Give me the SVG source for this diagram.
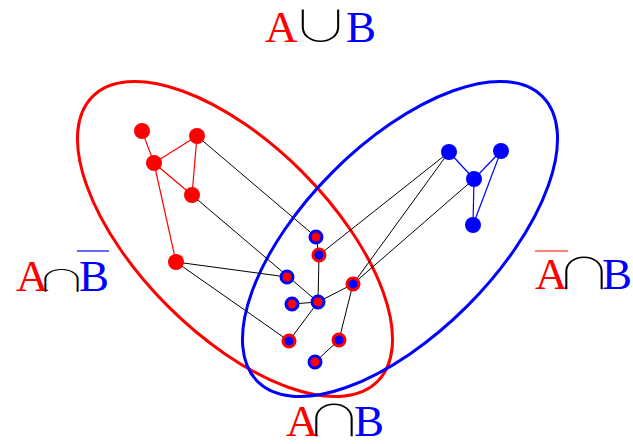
<svg xmlns="http://www.w3.org/2000/svg" width="633" height="444" viewBox="0 0 633 444">
<style>
.lbl{font-family:"Liberation Serif","Times New Roman",serif;font-size:45px}
.sym{font-family:"Noto Sans CJK JP","Noto Sans CJK SC",sans-serif;font-weight:100;font-size:42px;fill:#000;text-anchor:middle}
.ra{fill:#ff0000}.bb{fill:#0000ff}
.set{fill:none;stroke-width:3}
.re{stroke:#ff0000;stroke-width:1.2;fill:none}
.be{stroke:#0000ff;stroke-width:1.2;fill:none}
.ke{stroke:#000;stroke-width:1;fill:none}
.rn{fill:#ff0000}.bn{fill:#0000ff}
.rb{fill:#ff0000;stroke:#0000ff;stroke-width:3}
.br{fill:#0000ff;stroke:#ff0000;stroke-width:3}
</style>
<g id="setA"><ellipse class="set" stroke="#ff0000" cx="235" cy="239" rx="201.5" ry="95" transform="rotate(45 235 239)"/></g>
<g id="setB"><ellipse class="set" stroke="#0000ff" cx="400" cy="239" rx="201.5" ry="95" transform="rotate(-45 400 239)"/></g>
<g id="connectors">
<line class="re" x1="142" y1="131" x2="154" y2="163"/>
<line class="re" x1="154" y1="163" x2="197" y2="136"/>
<line class="re" x1="154" y1="163" x2="192" y2="195"/>
<line class="re" x1="197" y1="136" x2="192" y2="195"/>
<line class="re" x1="154" y1="163" x2="176" y2="262"/>
<line class="be" x1="449" y1="152" x2="474" y2="179"/>
<line class="be" x1="501" y1="151" x2="474" y2="179"/>
<line class="be" x1="474" y1="179" x2="473" y2="225"/>
<line class="be" x1="501" y1="151" x2="473" y2="225"/>
<line class="ke" x1="197" y1="136" x2="316" y2="237"/>
<line class="ke" x1="192" y1="195" x2="318" y2="302"/>
<line class="ke" x1="176" y1="262" x2="287" y2="277"/>
<line class="ke" x1="176" y1="262" x2="289" y2="341"/>
<line class="ke" x1="316" y1="237" x2="319" y2="255"/>
<line class="ke" x1="319" y1="255" x2="449" y2="152"/>
<line class="ke" x1="319" y1="255" x2="318" y2="302"/>
<line class="ke" x1="292" y1="304" x2="318" y2="302"/>
<line class="ke" x1="318" y1="302" x2="353" y2="284"/>
<line class="ke" x1="318" y1="302" x2="289" y2="341"/>
<line class="ke" x1="353" y1="284" x2="339" y2="340"/>
<line class="ke" x1="339" y1="340" x2="315" y2="362"/>
<line class="ke" x1="353" y1="284" x2="449" y2="152"/>
<line class="ke" x1="353" y1="284" x2="474" y2="179"/>
</g>
<g id="r1"><circle class="rn" cx="142" cy="131" r="8"/></g>
<g id="r2"><circle class="rn" cx="197" cy="136" r="8"/></g>
<g id="r3"><circle class="rn" cx="154" cy="163" r="8"/></g>
<g id="r4"><circle class="rn" cx="192" cy="195" r="8"/></g>
<g id="r5"><circle class="rn" cx="176" cy="262" r="8"/></g>
<g id="b1"><circle class="bn" cx="449" cy="152" r="8"/></g>
<g id="b2"><circle class="bn" cx="501" cy="151" r="8"/></g>
<g id="b3"><circle class="bn" cx="474" cy="179" r="8"/></g>
<g id="b4"><circle class="bn" cx="473" cy="225" r="8"/></g>
<g id="m1"><circle class="rb" cx="316" cy="237" r="6"/></g>
<g id="m2"><circle class="br" cx="319" cy="255" r="6"/></g>
<g id="m3"><circle class="rb" cx="287" cy="277" r="6"/></g>
<g id="m4"><circle class="br" cx="353" cy="284" r="6"/></g>
<g id="m5"><circle class="rb" cx="292" cy="304" r="6"/></g>
<g id="m6"><circle class="rb" cx="318" cy="302" r="6"/></g>
<g id="m7"><circle class="br" cx="289" cy="341" r="6"/></g>
<g id="m8"><circle class="br" cx="339" cy="340" r="6"/></g>
<g id="m9"><circle class="rb" cx="315" cy="362" r="6"/></g>
<g id="label-union">
<text class="lbl ra" x="265" y="42">A</text>
<text class="sym" transform="translate(320.5 42) scale(1.38 1.02)">∪</text>
<text class="lbl bb" x="346" y="42">B</text>
</g>
<g id="label-a-notb">
<text class="lbl ra" x="16" y="291">A</text>
<text class="sym" transform="translate(61.5 291) scale(1.26 0.7)">∩</text>
<text class="lbl bb" x="79" y="291">B</text>
<line x1="77" y1="251" x2="109" y2="251" stroke="#0000ff" stroke-width="1.2"/>
</g>
<g id="label-nota-b">
<text class="lbl ra" x="535" y="289">A</text>
<text class="sym" transform="translate(584 289) scale(1.38 1.02)">∩</text>
<text class="lbl bb" x="602" y="289">B</text>
<line x1="535" y1="251" x2="568" y2="251" stroke="#ff0000" stroke-width="1.2"/>
</g>
<g id="label-intersection">
<text class="lbl ra" x="286" y="436">A</text>
<text class="sym" transform="translate(334 436) scale(1.38 1.02)">∩</text>
<text class="lbl bb" x="354" y="436">B</text>
</g>
</svg>
